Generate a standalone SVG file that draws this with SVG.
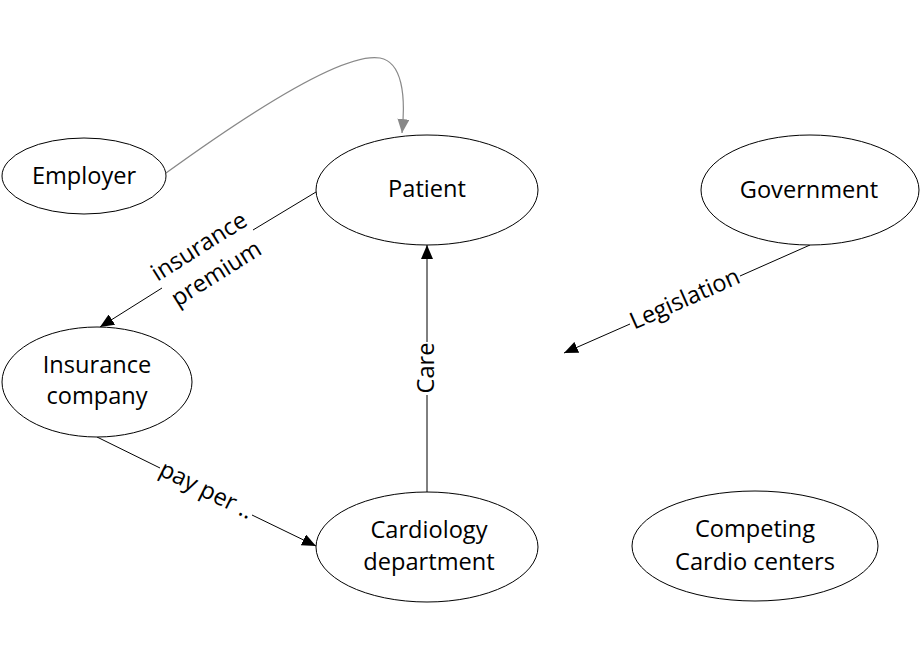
<svg xmlns="http://www.w3.org/2000/svg" width="920" height="660" viewBox="0 0 920 660">
<style>
.node{fill:#fff;stroke:#000;stroke-width:1}
.t{font-family:"Open Sans","Noto Sans",sans-serif;font-size:23.6px;fill:#000;text-anchor:middle}
.e{fill:none;stroke:#000;stroke-width:1}
.g{fill:none;stroke:#888;stroke-width:1.2}
</style>
<defs>
<marker id="ah" viewBox="0 0 14 12" refX="14" refY="6" markerWidth="14" markerHeight="12" markerUnits="userSpaceOnUse" orient="auto"><path d="M0,0 L14,6 L0,12 Z" fill="#000"/></marker>
<marker id="ahg" viewBox="0 0 14 12" refX="14" refY="6" markerWidth="14" markerHeight="12" markerUnits="userSpaceOnUse" orient="auto"><path d="M0,0 L14,6 L0,12 Z" fill="#888"/></marker>
</defs>
<rect width="920" height="660" fill="#fff"/>
<g id="connectors">
<path class="g" d="M166,173 C260,105 345,52 380,58 C402,62 406,95 402,133" marker-end="url(#ahg)"/>
<line class="e" x1="316" y1="192" x2="253" y2="230"/>
<line class="e" x1="162" y1="288" x2="100" y2="327" marker-end="url(#ah)"/>
<text class="t" transform="translate(207,259) rotate(-32.2)"><tspan x="0" y="-7">insurance</tspan><tspan x="0" y="25">premium</tspan></text>
<line class="e" x1="427" y1="492" x2="427" y2="395"/>
<line class="e" x1="427" y1="342" x2="427" y2="245" marker-end="url(#ah)"/>
<text class="t" transform="translate(434,368) rotate(-90)">Care</text>
<line class="e" x1="810" y1="245" x2="740" y2="276"/>
<line class="e" x1="630" y1="324" x2="564" y2="353" marker-end="url(#ah)"/>
<text class="t" transform="translate(688,306) rotate(-23.9)">Legislation</text>
<line class="e" x1="97" y1="437" x2="160" y2="468"/>
<line class="e" x1="252" y1="515" x2="316" y2="546" marker-end="url(#ah)"/>
<text class="t" transform="translate(203,497) rotate(26.5)">pay per ..</text>
</g>
<g id="employer"><ellipse class="node" cx="84" cy="176" rx="82" ry="38"/><text class="t" x="84" y="184">Employer</text></g>
<g id="patient"><ellipse class="node" cx="427" cy="190" rx="111" ry="55"/><text class="t" x="427" y="197">Patient</text></g>
<g id="government"><ellipse class="node" cx="810" cy="190" rx="109" ry="55"/><text class="t" x="809" y="198">Government</text></g>
<g id="insurance"><ellipse class="node" cx="97" cy="382" rx="95" ry="55"/><text class="t" x="97" y="373">Insurance</text><text class="t" x="97" y="404">company</text></g>
<g id="cardiology"><ellipse class="node" cx="427" cy="547" rx="111" ry="55"/><text class="t" x="429" y="538">Cardiology</text><text class="t" x="429" y="570">department</text></g>
<g id="competing"><ellipse class="node" cx="755" cy="546" rx="123" ry="55"/><text class="t" x="755" y="537">Competing</text><text class="t" x="755" y="570">Cardio centers</text></g>
</svg>
